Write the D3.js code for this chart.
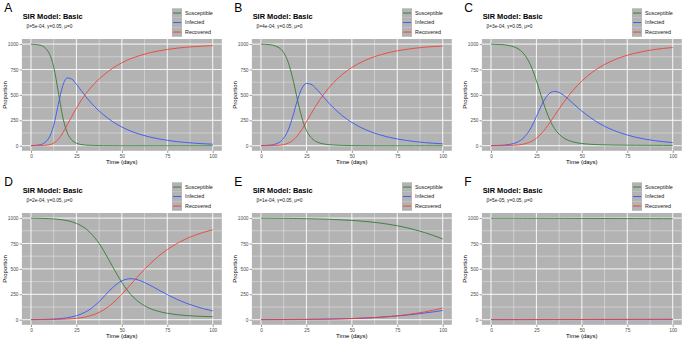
<!DOCTYPE html>
<html>
<head>
<meta charset="utf-8">
<script src="https://cdn.jsdelivr.net/npm/d3@7"></script>
<style>
  body { margin: 0; background: #fff; }
  svg { display: block; font-family: "Liberation Sans", Arial, sans-serif; }
</style>
</head>
<body>
<div id="chart"></div>
<script>
// time points (days) shared by all panels
const days = [0, 5, 10, 12.5, 15, 17.5, 20, 22.5, 25, 27.5, 30, 32.5, 35, 37.5, 40, 45, 50, 55, 60, 65, 70, 75, 80, 85, 90, 95, 100];

const panelLabels = ["A", "B", "C", "D", "E", "F"];
const betaLabels = ["5e-04", "4e-04", "3e-04", "2e-04", "1e-04", "5e-05"];
const seriesNames = ["Susceptible", "Infected", "Recovered"];
const xTicks = [0, 25, 50, 75, 100];
const yTicks = [0, 250, 500, 750, 1000];

const susceptibleA = [999, 989.5, 910, 775, 533, 281, 126, 55, 25, 12, 6, 4, 2, 1.5, 1, 0.5, 0, 0, 0, 0, 0, 0, 0, 0, 0, 0, 0];
const infectedA = [1, 9.5, 81, 200, 404, 592, 667, 655, 605, 546, 487, 433, 385, 341, 303, 236, 184, 143, 112, 87, 68, 53, 41, 32, 25, 19.5, 15];
const recoveredA = [0, 1, 9, 25, 63, 127, 207, 290, 370, 442, 507, 563, 613, 657, 696, 763, 816, 857, 888, 913, 932, 947, 959, 968, 975, 980.5, 985];

const susceptibleB = [999, 993.5, 962.5, 915, 820, 660, 458, 276, 151, 82, 45, 26, 16, 10, 7, 3, 1.5, 0.7, 0.3, 0, 0, 0, 0, 0, 0, 0, 0];
const infectedB = [1, 5.8, 32.8, 74, 155, 288, 445, 564, 613, 605, 569, 519, 467, 417, 371, 292, 229, 179, 140, 109, 85, 66, 52, 40, 31, 24, 19];
const recoveredB = [0, 0.7, 4.7, 11, 25, 52, 97, 160, 236, 313, 386, 455, 517, 573, 622, 705, 770, 820, 860, 891, 915, 934, 948, 960, 969, 976, 981];

const susceptibleC = [999, 996, 986, 974, 953, 916, 855, 763, 639, 498, 362, 250, 168, 113, 77, 38.6, 21.9, 13.8, 9.6, 7.2, 5.7, 4.8, 4.2, 3.7, 3.4, 3.2, 3.0];
const infectedC = [1, 3.5, 11.8, 21.8, 39.1, 69.5, 119, 192, 287, 386, 469, 519, 535, 524, 496, 419, 341, 273, 216, 170, 134, 105, 82, 64, 50, 39, 31];
const recoveredC = [0, 0.5, 2.2, 4.2, 7.9, 14.5, 26, 45, 74, 116, 169, 231, 297, 363, 427, 542, 637, 713, 774, 822, 860, 890, 913, 932, 947, 958, 966];

const susceptibleD = [999, 997.5, 994.4, 991.6, 987.9, 982.3, 974.5, 963, 947.6, 925.8, 896.6, 858.5, 809, 751, 678.7, 520, 366.8, 246.8, 165.7, 114.5, 83, 63.2, 50.4, 41.9, 36.1, 32, 29.1];
const infectedD = [1, 2.1, 4.45, 6.5, 9.3, 13.5, 19.3, 27.6, 39.2, 55, 76.4, 103, 138, 177, 224.7, 317, 382.7, 403.7, 385.3, 344, 295, 246.8, 203, 165.6, 134, 108, 87];
const recoveredD = [0, 0.4, 1.2, 1.9, 2.8, 4.2, 6.2, 9.4, 13.2, 19.2, 27, 38.5, 52.8, 72, 96.6, 163, 250.5, 349.5, 449, 541.5, 622, 690, 746.5, 792.5, 830, 860, 884];

const susceptibleE = [999, 998.4, 997.7, 997.3, 996.8, 996.2, 995.6, 994.8, 994, 993.1, 992, 990.9, 989.5, 988, 986.3, 982.1, 977, 970.5, 962.5, 952.5, 939.9, 924.7, 906, 883.6, 858, 828, 794.6];
const infectedE = [1, 1.28, 1.65, 1.87, 2.12, 2.4, 2.71, 3.08, 3.49, 3.95, 4.47, 5.05, 5.7, 6.45, 7.3, 9.3, 11.9, 15, 18.9, 23.7, 29.7, 36.8, 45.2, 54.8, 66, 77.5, 91];
const recoveredE = [0, 0.3, 0.65, 0.87, 1.12, 1.4, 1.71, 2.08, 2.49, 2.95, 3.5, 4.1, 4.8, 5.6, 6.4, 8.6, 11.1, 14.5, 18.6, 23.8, 30.4, 38.5, 48.8, 61.6, 76, 94.5, 114.5];

const susceptibleF = [999, 998.7, 998.5, 998.4, 998.2, 998.1, 998, 997.9, 997.7, 997.6, 997.5, 997.4, 997.2, 997.1, 997, 996.7, 996.5, 996.2, 996, 995.7, 995.5, 995.2, 995, 994.7, 994.5, 994.2, 994];
const infectedF = [1, 1, 1, 1, 1, 1, 1, 1, 1, 1, 1, 1, 1, 1, 1, 1, 1, 1, 1, 0.99, 0.99, 0.99, 0.99, 0.99, 0.98, 0.98, 0.98];
const recoveredF = [0, 0.25, 0.5, 0.6, 0.75, 0.9, 1, 1.1, 1.25, 1.4, 1.5, 1.6, 1.75, 1.9, 2, 2.25, 2.5, 2.75, 3, 3.25, 3.5, 3.75, 4, 4.25, 4.5, 4.75, 5];

const panelSeries = [
  [susceptibleA, infectedA, recoveredA],
  [susceptibleB, infectedB, recoveredB],
  [susceptibleC, infectedC, recoveredC],
  [susceptibleD, infectedD, recoveredD],
  [susceptibleE, infectedE, recoveredE],
  [susceptibleF, infectedF, recoveredF]
];

const width = 685, height = 342;
const colW = 230, rowH = 174;
const panelBg = "#b3b3b3";
const colors = ["#2a7a2a", "#3050f5", "#f23c30"];

const svg = d3.select("#chart")
  .append("svg")
    .attr("width", width)
    .attr("height", height);

const x = d3.scaleLinear().domain([-5, 105]).range([21.9, 221.8]);
const y = d3.scaleLinear().domain([-50, 1050]).range([150.8, 39]);

const line = d3.line()
  .x(d => x(d[0]))
  .y(d => y(d[1]))
  .curve(d3.curveMonotoneX);

panelLabels.forEach((lab, i) => {
  const g = svg.append("g")
    .attr("transform", `translate(${(i % 3) * colW}, ${Math.floor(i / 3) * rowH})`);

  // panel letter
  g.append("text")
    .attr("x", 4.3).attr("y", 11.8)
    .attr("font-size", 12)
    .text(lab);

  // title and subtitle
  g.append("text")
    .attr("x", 22.7).attr("y", 19)
    .attr("font-size", 7.4)
    .attr("font-weight", "bold")
    .text("SIR Model: Basic");
  g.append("text")
    .attr("x", 26.5).attr("y", 27.8)
    .attr("font-size", 4.8)
    .attr("fill", "#1a1a1a")
    .text(`\u03b2=${betaLabels[i]},  \u03b3=0.05,  \u03bc=0`);

  // panel background + grid
  g.append("rect")
    .attr("x", x.range()[0]).attr("y", y.range()[1])
    .attr("width", x.range()[1] - x.range()[0])
    .attr("height", y.range()[0] - y.range()[1])
    .attr("fill", panelBg);

  const xMinor = d3.pairs(xTicks).map(([a, b]) => (a + b) / 2);
  const yMinor = d3.pairs(yTicks).map(([a, b]) => (a + b) / 2);

  const grid = g.append("g").attr("stroke", "#fff");
  grid.selectAll(".xminor").data(xMinor).join("line")
    .attr("x1", d => x(d)).attr("x2", d => x(d))
    .attr("y1", y.range()[1]).attr("y2", y.range()[0])
    .attr("stroke-width", 0.45).attr("stroke-opacity", 0.8);
  grid.selectAll(".yminor").data(yMinor).join("line")
    .attr("y1", d => y(d)).attr("y2", d => y(d))
    .attr("x1", x.range()[0]).attr("x2", x.range()[1])
    .attr("stroke-width", 0.45).attr("stroke-opacity", 0.8);
  grid.selectAll(".xmajor").data(xTicks).join("line")
    .attr("x1", d => x(d)).attr("x2", d => x(d))
    .attr("y1", y.range()[1]).attr("y2", y.range()[0])
    .attr("stroke-width", 0.9);
  grid.selectAll(".ymajor").data(yTicks).join("line")
    .attr("y1", d => y(d)).attr("y2", d => y(d))
    .attr("x1", x.range()[0]).attr("x2", x.range()[1])
    .attr("stroke-width", 0.9);

  // lines
  panelSeries[i].forEach((vals, k) => {
    g.append("path")
      .datum(days.map((d, j) => [d, vals[j]]))
      .attr("fill", "none")
      .attr("stroke", colors[k])
      .attr("stroke-width", 0.85)
      .attr("d", line);
  });

  // axes
  const xAxis = g.append("g")
    .attr("transform", `translate(0, ${y.range()[0]})`)
    .call(d3.axisBottom(x).tickValues(xTicks).tickFormat(d3.format("d")).tickSize(2.2).tickPadding(1.2));
  const yAxis = g.append("g")
    .attr("transform", `translate(${x.range()[0]}, 0)`)
    .call(d3.axisLeft(y).tickValues(yTicks).tickFormat(d3.format("d")).tickSize(2.2).tickPadding(1.2));
  [xAxis, yAxis].forEach(a => {
    a.select(".domain").remove();
    a.selectAll("line").attr("stroke", "#333").attr("stroke-width", 0.5);
    a.selectAll("text").attr("font-size", 4.8).attr("fill", "#4d4d4d")
      .attr("font-family", "Liberation Sans, Arial, sans-serif");
  });

  g.append("text")
    .attr("x", (x.range()[0] + x.range()[1]) / 2).attr("y", 164.3)
    .attr("text-anchor", "middle")
    .attr("font-size", 6)
    .text("Time (days)");
  g.append("text")
    .attr("transform", `translate(7, ${(y.range()[0] + y.range()[1]) / 2}) rotate(-90)`)
    .attr("text-anchor", "middle")
    .attr("font-size", 6)
    .text("Proportion");

  // legend
  const legend = g.append("g").attr("transform", "translate(172, 8.3)");
  seriesNames.forEach((name, k) => {
    const row = legend.append("g").attr("transform", `translate(0, ${k * 9.5})`);
    row.append("rect")
      .attr("width", 10).attr("height", 9.5)
      .attr("fill", panelBg);
    row.append("line")
      .attr("x1", 1).attr("x2", 9)
      .attr("y1", 4.75).attr("y2", 4.75)
      .attr("stroke", colors[k]).attr("stroke-width", 0.9);
    row.append("text")
      .attr("x", 13).attr("y", 6.6)
      .attr("font-size", 5.4)
      .attr("fill", "#1a1a1a")
      .text(name);
  });
});
</script>
</body>
</html>
